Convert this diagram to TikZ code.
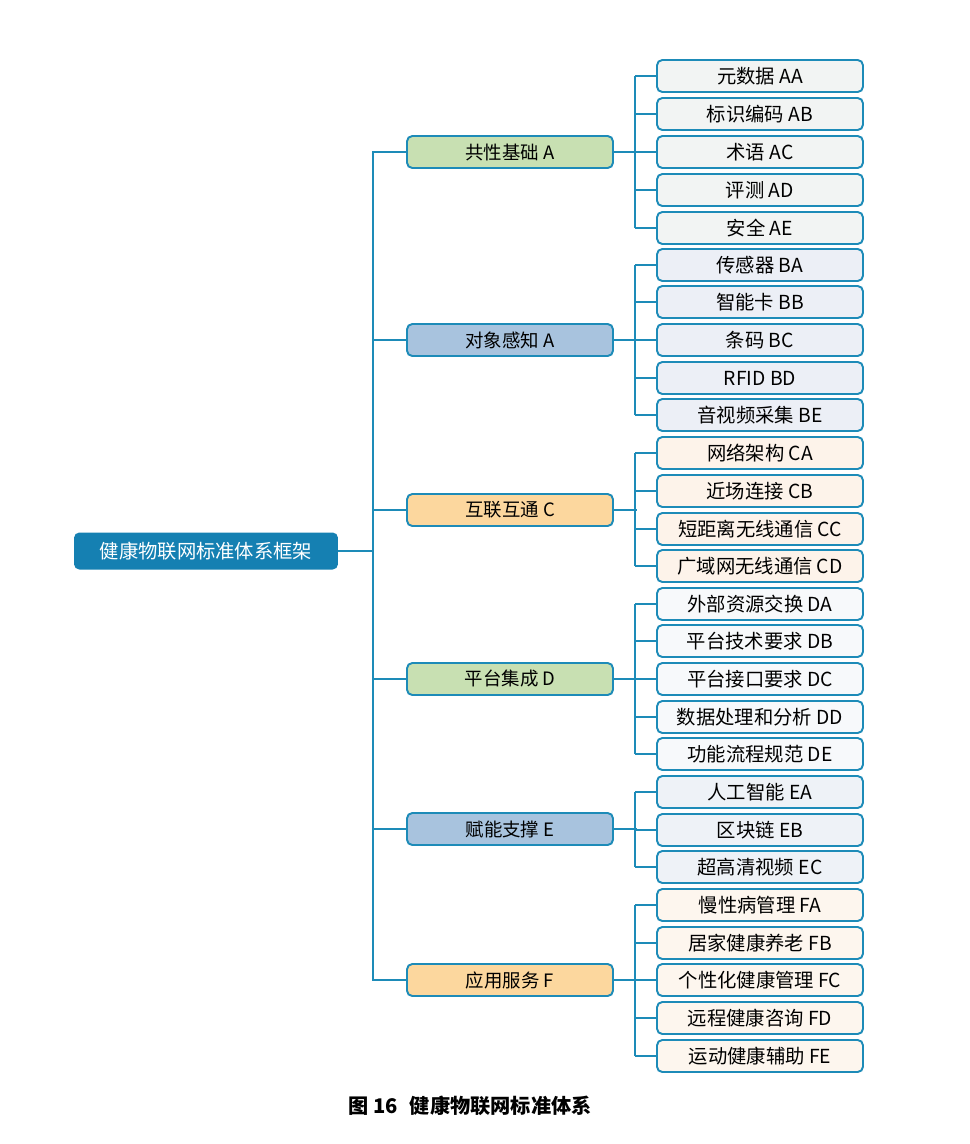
\documentclass[tikz,border=0pt]{standalone}
\usepackage{fontspec}
\setmainfont{Noto Sans CJK SC}
\usetikzlibrary{positioning}
\definecolor{linkblue}{HTML}{1D8BB8}
\definecolor{rootblue}{HTML}{1580B2}
\definecolor{midgreen}{HTML}{C8E0B2}
\definecolor{midblue}{HTML}{A8C3DE}
\definecolor{midorange}{HTML}{FCD79E}
\definecolor{leafA}{HTML}{F2F4F3}
\definecolor{leafB}{HTML}{ECEFF6}
\definecolor{leafC}{HTML}{FDF3EA}
\definecolor{leafD}{HTML}{F7F9FB}
\definecolor{leafE}{HTML}{EEF2F7}
\definecolor{leafF}{HTML}{FDF6EE}
\tikzset{
  link/.style={draw=linkblue, line width=1.3pt},
  root/.style={rounded corners=3pt, fill=rootblue, text=white, minimum width=5.28cm, minimum height=0.74cm, font=\fontsize{11}{13}\selectfont},
  mid/.style={draw=linkblue, line width=1.1pt, rounded corners=3pt, minimum width=4.12cm, minimum height=0.64cm, font=\fontsize{10.5}{12}\selectfont},
  leaf/.style={draw=linkblue, line width=1.1pt, rounded corners=3pt, minimum width=4.12cm, minimum height=0.64cm, inner sep=1pt, font=\fontsize{11}{12}\selectfont}
}
\begin{document}
\begin{tikzpicture}[x=0.02cm, y=-0.02cm]
  \useasboundingbox[fill=white] (0,0) rectangle (970,1144);
  % root
  \node[root] (root) at (206,551) {健康物联网标准体系框架};
  \coordinate (trunk) at (373,551);
  % middle level
  \node[mid, fill=midgreen]  (A) at (510,152) {共性基础 A};
  \node[mid, fill=midblue]   (B) at (510,340) {对象感知 A};
  \node[mid, fill=midorange] (C) at (510,510) {互联互通 C};
  \node[mid, fill=midgreen]  (D) at (510,679) {平台集成 D};
  \node[mid, fill=midblue]   (E) at (510,829) {赋能支撑 E};
  \node[mid, fill=midorange] (F) at (510,980) {应用服务 F};
  \draw[link] (root.east) -- (trunk);
  \draw[link] (A.west) -| (trunk) |- (F.west);
  \foreach \m in {B,C,D,E} \draw[link] (\m.west) -- (\m.west -| trunk);
  % leaves
  \foreach \grp/\col/\list in {
      A/leafA/{76/AA/元数据 AA,114/AB/标识编码 AB,152/AC/术语 AC,190/AD/评测 AD,228/AE/安全 AE},
      B/leafB/{265/BA/传感器 BA,302/BB/智能卡 BB,340/BC/条码 BC,378/BD/RFID BD,415/BE/音视频采集 BE},
      C/leafC/{453/CA/网络架构 CA,491/CB/近场连接 CB,529/CC/短距离无线通信 CC,566/CD/广域网无线通信 CD},
      D/leafD/{604/DA/外部资源交换 DA,641/DB/平台技术要求 DB,679/DC/平台接口要求 DC,717/DD/数据处理和分析 DD,754/DE/功能流程规范 DE},
      E/leafE/{792/EA/人工智能 EA,830/EB/区块链 EB,867/EC/超高清视频 EC},
      F/leafF/{905/FA/慢性病管理 FA,943/FB/居家健康养老 FB,980/FC/个性化健康管理 FC,1018/FD/远程健康咨询 FD,1056/FE/运动健康辅助 FE}} {
    \foreach \y/\id/\txt in \list {
      \node[leaf, fill=\col] (\id) at (760,\y) {\txt};
      \draw[link] (\id.west) -- ++(-21,0) coordinate (bus\id);
      \draw[link] (bus\id) -- (bus\id |- \grp.east);
    }
    \draw[link] (\grp.east) -- ++(23,0);
  }
  % caption
  \node[font=\bfseries\fontsize{11.5}{13}\selectfont] (caption) at (470,1106) {图 16\hspace{0.6em}健康物联网标准体系};
\end{tikzpicture}
\end{document}
